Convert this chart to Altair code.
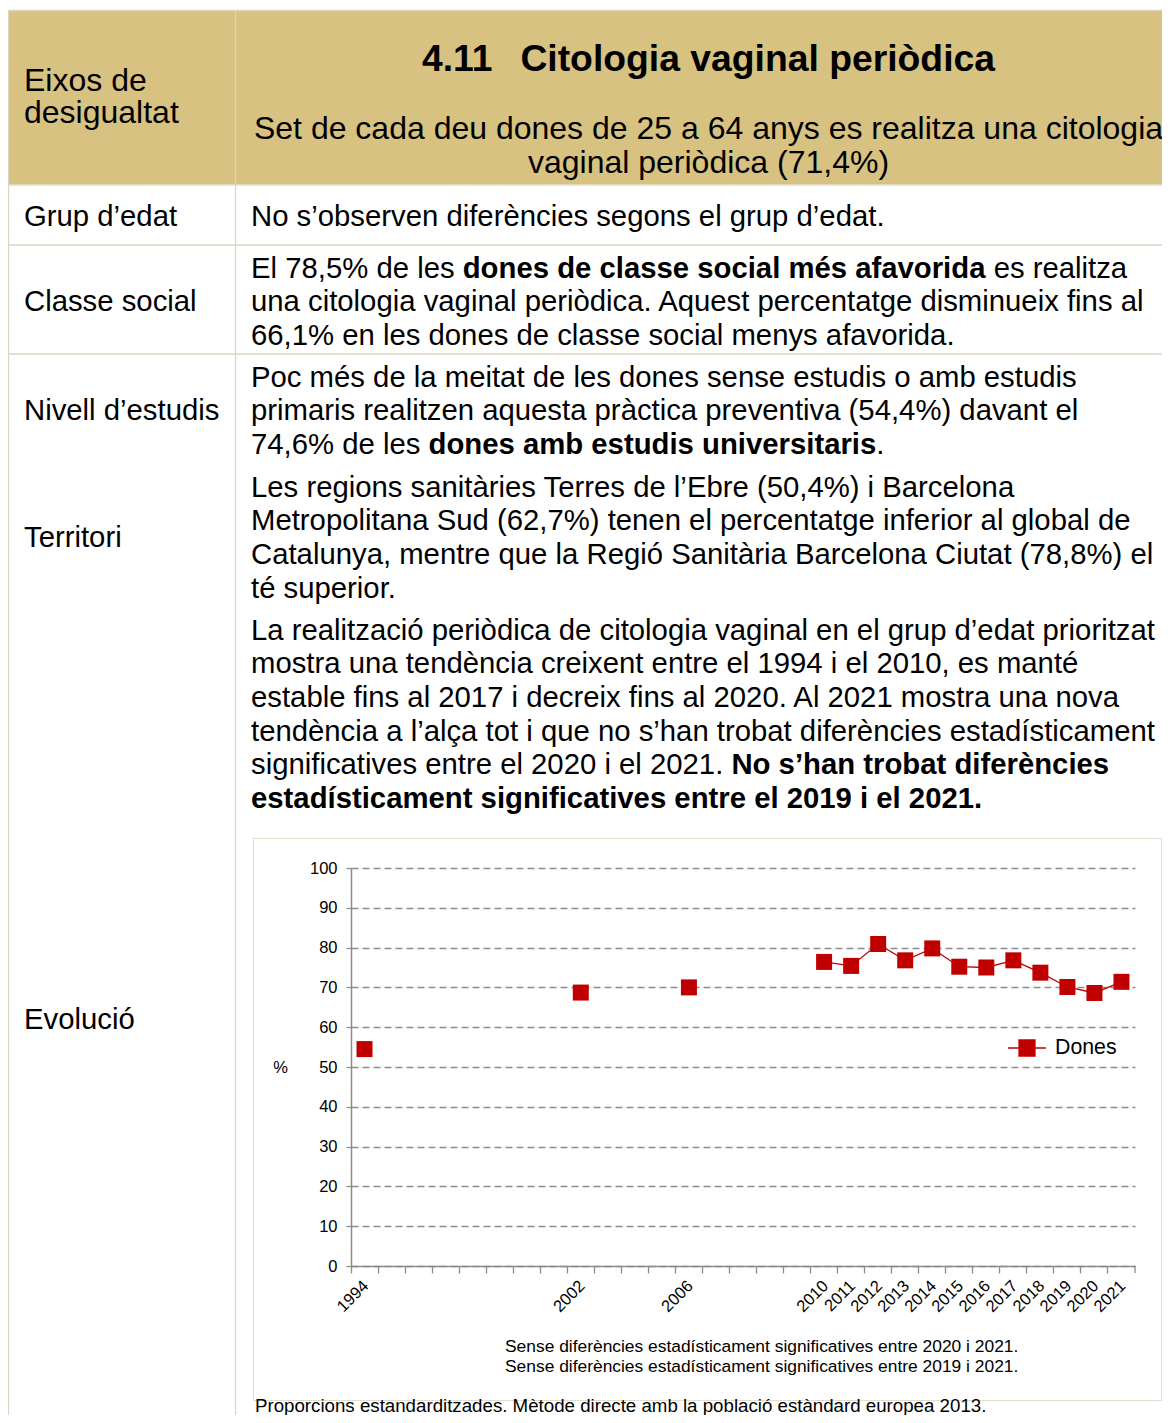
import altair as alt
import pandas as pd

# ---------------- data ----------------
years = ["1994", "2002", "2006", "2010", "2011", "2012", "2013", "2014",
         "2015", "2016", "2017", "2018", "2019", "2020", "2021"]
values = [54.5, 68.7, 70.0, 76.4, 75.4, 80.9, 76.8, 79.8,
          75.2, 75.0, 76.8, 73.7, 70.1, 68.6, 71.4]
serie = "Dones"
# category slots of the original category axis (empty slots start with "_")
slots = ["1994", "_1", "_2", "_3", "_4", "_5", "_6", "_7", "2002", "_8", "_9", "_10",
         "2006", "_11", "_12", "_13", "_14", "2010", "2011", "2012", "2013", "2014",
         "2015", "2016", "2017", "2018", "2019", "2020", "2021"]
y_ticks = [0, 10, 20, 30, 40, 50, 60, 70, 80, 90, 100]

df = pd.DataFrame({"any": years, "valor": values, "serie": [serie] * len(years),
                   "num": [int(y) for y in years]})

# ---------------- texts ----------------
header_left = ["Eixos de", "desigualtat"]
title_num = "4.11"
title_txt = "Citologia vaginal periòdica"
subtitle = ["Set de cada deu dones de 25 a 64 anys es realitza una citologia",
            "vaginal periòdica (71,4%)"]
row_labels = ["Grup d’edat", "Classe social", "Nivell d’estudis", "Territori", "Evolució"]
p_grup = [[("No s’observen diferències segons el grup d’edat.", False)]]
p_classe = [[("El 78,5% de les ", False), ("dones de classe social més afavorida", True), (" es realitza", False)],
            [("una citologia vaginal periòdica. Aquest percentatge disminueix fins al", False)],
            [("66,1% en les dones de classe social menys afavorida.", False)]]
p_nivell = [[("Poc més de la meitat de les dones sense estudis o amb estudis", False)],
            [("primaris realitzen aquesta pràctica preventiva (54,4%) davant el", False)],
            [("74,6% de les ", False), ("dones amb estudis universitaris", True), (".", False)]]
p_terr = [[("Les regions sanitàries Terres de l’Ebre (50,4%) i Barcelona", False)],
          [("Metropolitana Sud (62,7%) tenen el percentatge inferior al global de", False)],
          [("Catalunya, mentre que la Regió Sanitària Barcelona Ciutat (78,8%) el", False)],
          [("té superior.", False)]]
p_evol = [[("La realització periòdica de citologia vaginal en el grup d’edat prioritzat", False)],
          [("mostra una tendència creixent entre el 1994 i el 2010, es manté", False)],
          [("estable fins al 2017 i decreix fins al 2020. Al 2021 mostra una nova", False)],
          [("tendència a l’alça tot i que no s’han trobat diferències estadísticament", False)],
          [("significatives entre el 2020 i el 2021. ", False), ("No s’han trobat diferències", True)],
          [("estadísticament significatives entre el 2019 i el 2021.", True)]]
notes = ["Sense diferències estadísticament significatives entre 2020 i 2021.",
         "Sense diferències estadísticament significatives entre 2019 i 2021."]
footnote = "Proporcions estandarditzades. Mètode directe amb la població estàndard europea 2013."

# ---------------- layout helpers ----------------
FONT = "Liberation Sans"
OX, OY = 351, 868          # page position of the plot origin
PW, PH = 784, 398          # plot size
CW, CH = 1154, 1407        # canvas size (fits the 1170x1423 page with its 8px margin)
RED = "#C00000"
GRID = "#8c8c8c"
LINE = "#DCD5BF"
TAN = "#D8C281"

REG = {" ": 278, "%": 889, "’": 222, "(": 333, ")": 333, ",": 278, ".": 278, "-": 333,
       "A": 667, "B": 667, "C": 722, "D": 722, "E": 667, "F": 611, "G": 778, "H": 722, "I": 278,
       "J": 500, "K": 667, "L": 556, "M": 833, "N": 722, "O": 778, "P": 667, "Q": 778, "R": 722,
       "S": 667, "T": 611, "U": 722, "V": 667, "W": 944, "X": 667, "Y": 667, "Z": 611,
       "a": 556, "b": 556, "c": 500, "d": 556, "e": 556, "f": 278, "g": 556, "h": 556, "i": 222,
       "j": 222, "k": 500, "l": 222, "m": 833, "n": 556, "o": 556, "p": 556, "q": 556, "r": 333,
       "s": 500, "t": 278, "u": 556, "v": 500, "w": 722, "x": 500, "y": 500, "z": 500,
       "à": 556, "è": 556, "é": 556, "ò": 556, "ó": 556, "í": 278, "ç": 500}
BOLD = {" ": 278, "%": 889, "’": 278, "(": 333, ")": 333, ",": 278, ".": 278, "-": 333,
        "A": 722, "B": 722, "C": 722, "D": 722, "E": 667, "F": 611, "G": 778, "H": 722, "I": 278,
        "J": 556, "K": 722, "L": 611, "M": 833, "N": 722, "O": 778, "P": 667, "Q": 778, "R": 722,
        "S": 667, "T": 611, "U": 722, "V": 667, "W": 944, "X": 667, "Y": 667, "Z": 611,
        "a": 556, "b": 611, "c": 556, "d": 611, "e": 556, "f": 333, "g": 611, "h": 611, "i": 278,
        "j": 278, "k": 556, "l": 278, "m": 889, "n": 611, "o": 611, "p": 611, "q": 611, "r": 389,
        "s": 556, "t": 333, "u": 611, "v": 556, "w": 778, "x": 556, "y": 556, "z": 500,
        "à": 556, "è": 556, "é": 556, "ò": 611, "ó": 611, "í": 278, "ç": 556}


def tw(s, size, bold=False):
    t = BOLD if bold else REG
    return sum(t.get(c, 556) for c in s) * size / 1000.0


ONE = alt.Data(values=[{"k": 1}])
layers = []


def txt(s, x, y, size, bold=False, align="left", color="#000000"):
    layers.append(
        alt.Chart(alt.Data(values=[{"t": s}])).mark_text(
            align=align, baseline="alphabetic", fontSize=size,
            fontWeight="bold" if bold else "normal", font=FONT, color=color
        ).encode(x=alt.value(x - OX), y=alt.value(y - OY), text="t:N"))


def rect(x1, x2, y1, y2, fill, stroke=None):
    kw = dict(fill=fill)
    if stroke:
        kw.update(stroke=stroke, strokeWidth=1)
    layers.append(alt.Chart(ONE).mark_rect(**kw).encode(
        x=alt.value(x1 - OX), x2=alt.value(x2 - OX), y=alt.value(y1 - OY), y2=alt.value(y2 - OY)))


def hline(x1, x2, y, color=LINE, w=1.3):
    layers.append(alt.Chart(ONE).mark_rule(color=color, strokeWidth=w).encode(
        x=alt.value(x1 - OX), x2=alt.value(x2 - OX), y=alt.value(y - OY)))


def vline(x, y1, y2, color=LINE, w=1.3):
    layers.append(alt.Chart(ONE).mark_rule(color=color, strokeWidth=w).encode(
        x=alt.value(x - OX), y=alt.value(y1 - OY), y2=alt.value(y2 - OY)))


def para(lines, x, y0, size, lead):
    for i, segs in enumerate(lines):
        cx = x
        for s, b in segs:
            lead_sp = len(s) - len(s.lstrip(" "))
            body = s.strip(" ")
            if body:
                txt(body, cx + tw(" " * lead_sp, size, b), y0 + i * lead, size, bold=b)
            cx += tw(s, size, b)


# ---------------- table frame ----------------
rect(8, 1170, 10, 185, TAN)
hline(8, 1170, 10.5)
hline(8, 1170, 185, color="#E6E0CC")
hline(8, 1170, 245)
hline(8, 1170, 354)
vline(8.5, 10, 1423)
vline(235.5, 10, 1423)
rect(253.5, 1161.5, 838.5, 1400.5, "transparent", stroke="#E2DDCC")

# ---------------- table texts ----------------
BS = 29.3
LEAD = 33.7
txt(header_left[0], 24, 91, 32)
txt(header_left[1], 24, 123, 32)
txt(title_num, 422, 71, 37.3, bold=True)
txt(title_txt, 995, 71, 37.3, bold=True, align="right")
txt(subtitle[0], 708.5, 139, 32, align="center")
txt(subtitle[1], 708.5, 173, 32, align="center")

label_y = [225.5, 311, 420, 546.5, 1028.5]
for lab, ly in zip(row_labels, label_y):
    txt(lab, 24, ly, BS)

para(p_grup, 251, 225.5, BS, LEAD)
para(p_classe, 251, 277.5, BS, LEAD)
para(p_nivell, 251, 386.5, BS, LEAD)
para(p_terr, 251, 496.5, BS, LEAD)
para(p_evol, 251, 639.5, BS, LEAD)

txt(notes[0], 505, 1352, 17.4)
txt(notes[1], 505, 1372, 17.4)
txt(footnote, 255, 1411.5, 18.7)

# extra end tick of the category axis (Excel draws one at the axis end)
layers.append(alt.Chart(ONE).mark_rule(color=GRID, strokeWidth=1.3).encode(
    x=alt.value(PW), y=alt.value(PH), y2=alt.value(PH + 7)))

# ---------------- chart ----------------
xenc = alt.X("any:N", scale=alt.Scale(type="band", domain=slots, paddingInner=0, paddingOuter=0),
             axis=alt.Axis(title=None, bandPosition=0, labelOffset=PW / len(slots) / 2 - 12,
                           labelAngle=315, labelAlign="right", labelBaseline="middle",
                           labelExpr="indexof(datum.label, '_') == 0 ? '' : datum.label",
                           labelFontSize=16.5, labelFont=FONT, labelColor="#000000",
                           labelPadding=10, tickSize=7, tickColor=GRID, tickWidth=1.3,
                           domainColor=GRID, domainWidth=1.5, grid=False))
yenc = alt.Y("valor:Q", scale=alt.Scale(domain=[0, 100], nice=False),
             axis=alt.Axis(values=y_ticks, title="%", titleAngle=0, titleX=-71, titleY=199,
                           titleAlign="center", titleBaseline="middle", titleFontSize=16.5,
                           titleFontWeight="normal", titleFont=FONT, titleColor="#000000",
                           labelFontSize=16.5, labelFont=FONT, labelColor="#000000",
                           labelPadding=9, tickSize=5, tickColor=GRID, tickWidth=1.3,
                           domainColor=GRID, domainWidth=1.5,
                           grid=True, gridColor=GRID, gridDash=[7, 4], gridWidth=1.3))

line = alt.Chart(df).transform_filter("datum.num >= 2010").mark_line(
    color=RED, strokeWidth=1.3).encode(x=xenc, y=yenc)

LEG_PATH = "M-1,0L1,0M-0.42,-0.42L0.42,-0.42L0.42,0.42L-0.42,0.42Z"
points = alt.Chart(df).mark_point(shape="square", filled=True, size=256, opacity=1).encode(
    x=xenc, y=yenc,
    color=alt.Color("serie:N", scale=alt.Scale(domain=[serie], range=[RED]),
                    legend=alt.Legend(title=None, orient="none", legendX=656, legendY=160,
                                      symbolType=LEG_PATH, symbolSize=1444,
                                      symbolStrokeColor=RED, symbolStrokeWidth=1.3,
                                      symbolFillColor=RED, symbolOpacity=1,
                                      labelFontSize=21.3, labelFont=FONT, labelColor="#000000",
                                      labelOffset=8)))

chart = alt.layer(*layers, line, points).properties(
    width=PW, height=PH,
    autosize=alt.AutoSizeParams(type="none"),
    padding={"left": OX - 8, "top": OY - 8, "right": CW - (OX - 8) - PW,
             "bottom": CH - (OY - 8) - PH},
    background="#ffffff",
).configure_view(stroke=None)

chart.save("out.html", embed_options={"renderer": "svg", "actions": False})
